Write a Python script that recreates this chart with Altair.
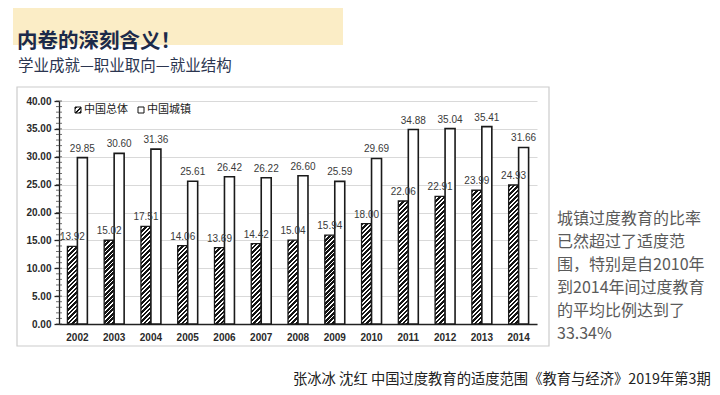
import altair as alt
import pandas as pd

# ---------------- data ----------------
years = ["2002", "2003", "2004", "2005", "2006", "2007", "2008",
         "2009", "2010", "2011", "2012", "2013", "2014"]
china_total = [13.92, 15.02, 17.51, 14.06, 13.69, 14.42, 15.04,
               15.94, 18.00, 22.06, 22.91, 23.99, 24.93]
china_urban = [29.85, 30.60, 31.36, 25.61, 26.42, 26.22, 26.60,
               25.59, 29.69, 34.88, 35.04, 35.41, 31.66]
series_names = ["中国总体", "中国城镇"]
y_ticks = [0, 5, 10, 15, 20, 25, 30, 35, 40]
minor_ticks = list(range(0, 41))

title_text = "内卷的深刻含义！"
subtitle_text = "学业成就—职业取向—就业结构"
note_lines = ["城镇过度教育的比率", "已然超过了适度范", "围，特别是自2010年",
              "到2014年间过度教育", "的平均比例达到了", "33.34%"]
citation_text = "张冰冰 沈红 中国过度教育的适度范围《教育与经济》2019年第3期"

# ---------------- layout ----------------
W, H = 478, 223
Y_MAX = 40
PAD_INNER = 0.457
SUB_W = W / 13 * (1 - PAD_INNER) / 2
CJK = "Noto Sans CJK SC"
LAT = "Liberation Sans"

df_total = pd.DataFrame({"year": years, "series": series_names[0], "value": china_total})
df_urban = pd.DataFrame({"year": years, "series": series_names[1], "value": china_urban})
df_ticks = pd.DataFrame({"tick": minor_ticks})


def hatch_gradient(w, h, period=4.5, dark=0.58, c_dark="#141414", c_light="#ffffff"):
    k = (w + h) / (w * w + h * h)
    n = (w + h) / period
    stops = []
    j = 0
    while j / n < 1:
        a = j / n
        b = min((j + dark) / n, 1.0)
        c = min((j + 1) / n, 1.0)
        stops += [(a, c_dark), (b, c_dark)]
        if b < 1:
            stops += [(b, c_light), (c, c_light)]
        j += 1
    return alt.LinearGradient(
        gradient="linear", x1=0, y1=0, x2=k * w, y2=k * h,
        stops=[alt.GradientStop(color=col, offset=round(o, 5)) for o, col in stops],
    )


x_enc = alt.X(
    "year:N",
    scale=alt.Scale(domain=years, paddingInner=PAD_INNER, paddingOuter=PAD_INNER / 2),
    axis=alt.Axis(title=None, labelAngle=0, ticks=False, grid=False,
                  domainColor="#222222", domainWidth=1.5,
                  labelFont=LAT, labelFontSize=10, labelFontWeight="bold",
                  labelColor="#2a2a2a", labelPadding=8),
)
xo_enc = alt.XOffset("series:N", scale=alt.Scale(domain=series_names, paddingInner=0, paddingOuter=0))


def y_enc(field):
    return alt.Y(
        f"{field}:Q",
        scale=alt.Scale(domain=[0, Y_MAX], nice=False),
        axis=alt.Axis(title=None, values=y_ticks, format=".2f",
                      grid=True, gridColor="#d9d9d9", gridWidth=1,
                      domainColor="#222222", domainWidth=1.3,
                      tickColor="#222222", tickSize=5, tickWidth=1.3,
                      labelFont=LAT, labelFontSize=10, labelFontWeight="bold",
                      labelColor="#2a2a2a", labelPadding=3),
    )


def txt(text, x, y, size, color, font=CJK, weight="normal", baseline="middle", align="left"):
    return alt.Chart().mark_text(
        align=align, baseline=baseline, font=font, fontSize=size,
        fontWeight=weight, color=color,
    ).encode(x=alt.value(x), y=alt.value(y), text=alt.value(text))


layers = []

# yellow band behind the title
layers.append(alt.Chart().mark_rect(fill="#fbedc6").encode(
    x=alt.value(-46), x2=alt.value(284), y=alt.value(-96), y2=alt.value(-56)))
# chart frame
layers.append(alt.Chart().mark_rect(fillOpacity=0, stroke="#cccccc", strokeWidth=1.2).encode(
    x=alt.value(-42), x2=alt.value(490), y=alt.value(-14), y2=alt.value(245)))

# minor ticks on y axis
layers.append(alt.Chart(df_ticks).mark_tick(orient="horizontal", size=6, thickness=1, color="#333333").encode(
    x=alt.value(0), y=y_enc("tick")))

# hatched bars, one layer per bar so that the stripe density is constant
for i, yr in enumerate(years):
    g = hatch_gradient(SUB_W, china_total[i] / Y_MAX * H)
    layers.append(
        alt.Chart(df_total[df_total["year"] == yr])
        .mark_bar(fill=g, stroke="#1a1a1a", strokeWidth=1.3)
        .encode(x=x_enc, xOffset=xo_enc, y=y_enc("value"))
    )

layers.append(alt.Chart(df_urban).mark_bar(fill="white", stroke="#1a1a1a", strokeWidth=1.6).encode(
    x=x_enc, xOffset=xo_enc, y=y_enc("value")))

label_style = dict(baseline="bottom", dy=-4, font=LAT, fontSize=10, color="#3a3a3a")
layers.append(alt.Chart(df_total).mark_text(**label_style).encode(
    x=x_enc, xOffset=xo_enc, y=y_enc("value"), text=alt.Text("value:Q", format=".2f")))
layers.append(alt.Chart(df_urban).mark_text(**label_style).encode(
    x=x_enc, xOffset=xo_enc, y=y_enc("value"), text=alt.Text("value:Q", format=".2f")))

# legend
layers.append(alt.Chart().mark_rect(fill=hatch_gradient(6, 6, period=5), stroke="#111111", strokeWidth=1).encode(
    x=alt.value(16), x2=alt.value(22), y=alt.value(6), y2=alt.value(12)))
layers.append(txt(series_names[0], 25, 9, 11, "#222222"))
layers.append(alt.Chart().mark_rect(fill="white", stroke="#111111", strokeWidth=1).encode(
    x=alt.value(79), x2=alt.value(85), y=alt.value(6), y2=alt.value(12)))
layers.append(txt(series_names[1], 88, 9, 11, "#222222"))

# title, subtitle, note, citation
layers.append(txt(title_text, -42, -59.5, 20.5, "#1c2a4a", weight="bold"))
layers.append(txt(subtitle_text, -41, -35, 15.5, "#2b3550"))
for i, line in enumerate(note_lines):
    layers.append(txt(line, 498, 118 + 23 * i, 16, "#5a5a5a"))
layers.append(txt(citation_text, 234, 279, 14.3, "#222222"))

chart = (
    alt.layer(*layers, data=pd.DataFrame({"d": [0]}))
    .properties(
        width=W, height=H,
        padding={"left": 51, "top": 93, "right": 175, "bottom": 71},
        autosize=alt.AutoSizeParams(type="none"),
        background="white",
    )
    .configure_view(stroke=None)
)

chart.save("out.html", embed_options={"renderer": "svg", "actions": False})
